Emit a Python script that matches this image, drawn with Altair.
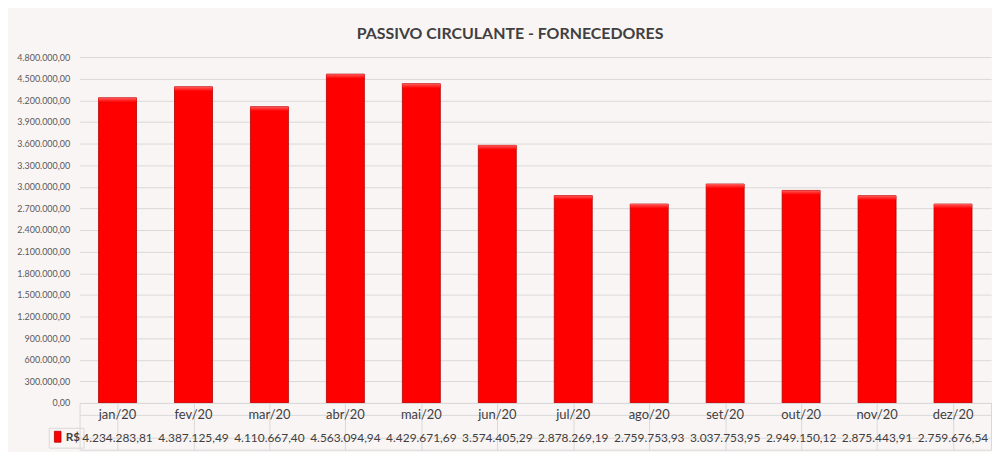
import altair as alt
import pandas as pd

meses = ["jan/20", "fev/20", "mar/20", "abr/20", "mai/20", "jun/20",
         "jul/20", "ago/20", "set/20", "out/20", "nov/20", "dez/20"]
valores = [4234283.81, 4387125.49, 4110667.40, 4563094.94, 4429671.69, 3574405.29,
           2878269.19, 2759753.93, 3037753.95, 2949150.12, 2875443.91, 2759676.54]
serie = "R$"
titulo = "PASSIVO CIRCULANTE - FORNECEDORES"
y_ticks = [0, 300000, 600000, 900000, 1200000, 1500000, 1800000, 2100000, 2400000,
           2700000, 3000000, 3300000, 3600000, 3900000, 4200000, 4500000, 4800000]


def br(v):
    return f"{v:,.2f}".replace(",", "X").replace(".", ",").replace("X", ".")


df = pd.DataFrame({"mes": meses, "valor": valores, "serie": [serie] * len(meses)})
tbl = pd.DataFrame({
    "mes": meses + meses,
    "linha": ["mes"] * len(meses) + ["valor"] * len(meses),
    "texto": meses + [br(v) for v in valores],
})

FONT = "Lato"
GRID = "#D9D9D9"

label_expr = ("replace(replace(replace(format(datum.value, ',.2f'), regexp(',', 'g'), '#'),"
              " regexp('\\\\.', 'g'), ','), regexp('#', 'g'), '.')")

x_bar = alt.X("mes:N", sort=meses,
              scale=alt.Scale(paddingInner=0.5, paddingOuter=0.25), axis=None)
y_bar = alt.Y("valor:Q",
              scale=alt.Scale(domain=[0, 4800000], nice=False),
              axis=alt.Axis(values=y_ticks, labelExpr=label_expr, title=None,
                            domain=False, ticks=False, labelFont=FONT,
                            labelFontSize=9, labelColor="#595959",
                            labelPadding=10, gridColor=GRID, gridWidth=1))

bars = alt.Chart(df).mark_bar(stroke="#B00000", strokeWidth=0.8).encode(
    x=x_bar,
    y=y_bar,
    color=alt.Color("serie:N", scale=alt.Scale(range=["#FF0000"]),
                    legend=alt.Legend(orient="none", legendX=-31, legendY=373,
                                      title=None,
                                      symbolType="M-0.6,-1H0.6V1H-0.6Z",
                                      symbolSize=121, symbolStrokeColor="#B00000",
                                      symbolStrokeWidth=0.8, labelFont=FONT,
                                      labelFontSize=12, labelFontWeight="bold",
                                      labelColor="#404040", labelOffset=2,
                                      padding=3, strokeColor=GRID)),
)

bevel = alt.Chart(df).transform_calculate(
    base="datum.valor - 60000"
).mark_bar(
    color=alt.LinearGradient(
        gradient="linear",
        stops=[alt.GradientStop(color="#FF5A5A", offset=0),
               alt.GradientStop(color="#FF0000", offset=1)],
        x1=0, x2=0, y1=0, y2=1),
).encode(x=x_bar, y=y_bar, y2="base:Q")

top = alt.layer(bars, bevel).properties(width=917, height=348)

x_tbl = alt.X("mes:N", sort=meses,
              scale=alt.Scale(paddingInner=0, paddingOuter=0),
              axis=alt.Axis(title=None, labels=False, ticks=False, domain=False,
                            grid=True, bandPosition=0, gridColor=GRID))
y_tbl = alt.Y("linha:N", sort=["mes", "valor"],
              scale=alt.Scale(paddingInner=0, paddingOuter=0),
              axis=alt.Axis(title=None, labels=False, ticks=False, domain=False,
                            grid=True, bandPosition=0, gridColor=GRID))

table = alt.Chart(tbl).mark_text(font=FONT, color="#404040").encode(
    x=x_tbl, y=y_tbl, text="texto:N",
    size=alt.condition(alt.datum.linha == "mes", alt.value(13), alt.value(12)),
).properties(width=917, height=47,
             view=alt.ViewBackground(stroke=GRID, strokeWidth=1))

chart = alt.vconcat(top, table, spacing=0, bounds="flush").resolve_scale(
    color="independent"
).properties(
    title=alt.TitleParams(text=titulo, font=FONT, fontSize=16, fontWeight="bold",
                          color="#404040", anchor="middle", dx=6, offset=11),
    padding={"left": 8, "top": 17, "right": 0, "bottom": 0},
    background="#FAF5F5",
).configure_view(strokeWidth=0)

chart.save("out.html", embed_options={"renderer": "svg", "actions": False})
